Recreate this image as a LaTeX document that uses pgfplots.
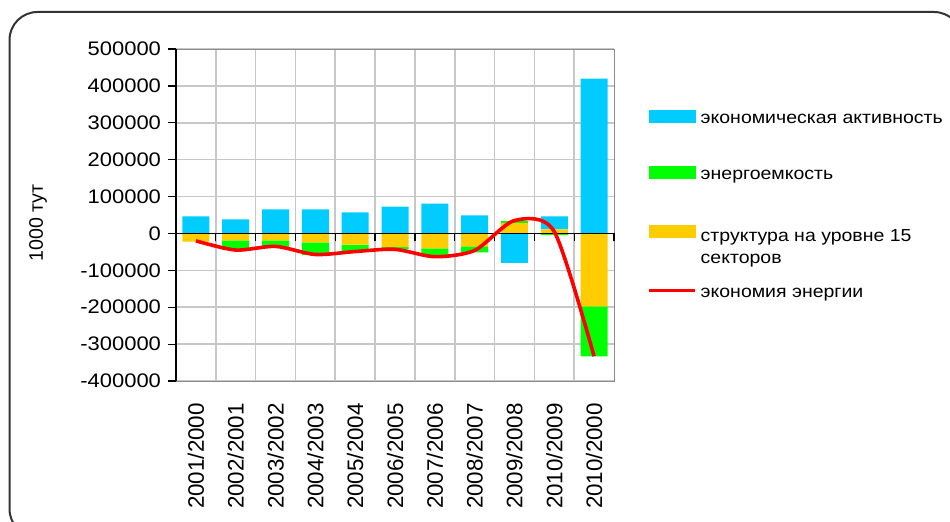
\documentclass[border=0pt]{standalone}
\usepackage{fontspec}
\setmainfont{Liberation Sans}[FakeStretch=1.12]
\newfontfamily\plainfont{Liberation Sans}
\usepackage{pgfplots}
\pgfplotsset{compat=1.18}

\definecolor{cblue}{HTML}{00CCFF}
\definecolor{cgreen}{HTML}{00FF00}
\definecolor{corange}{HTML}{FFCC00}
\definecolor{cred}{HTML}{FF0000}

\pgfplotsset{
  base/.style={
    at={(88pt,70pt)}, anchor=south west,
    width=219pt, height=166pt, scale only axis,
    xmin=-0.5, xmax=10.5, ymin=-400000, ymax=500000,
    scaled ticks=false,
  },
  bars/.style={draw=none, fill=#1},
}

\begin{document}
\begin{tikzpicture}
\useasboundingbox (0,0) rectangle (475pt,260.5pt);
\draw[line width=1pt, black!80, rounded corners=14pt] (4.75pt,-8pt) rectangle (481pt,254.5pt);

% background: frame, grid, category labels, negative parts of the bars
\begin{axis}[base,
  ybar stacked, bar width=13.5pt,
  axis line style={black!45},
  xtick={0,...,10},
  xticklabels={2001/2000,2002/2001,2003/2002,2004/2003,2005/2004,2006/2005,2007/2006,2008/2007,2009/2008,2010/2009,2010/2000},
  x tick label style={font=\plainfont\fontsize{11.2}{12}\selectfont, rotate=90, anchor=east, xshift=-7.5pt},
  minor xtick={0.5,1.5,...,9.5},
  xminorgrids=true,
  ytick={-400000,-300000,...,500000},
  yticklabels={},
  ymajorgrids=true,
  grid style={black!22, line width=0.8pt},
  major tick length=0pt, minor tick length=0pt,
]
\addplot[bars=corange] coordinates {(0,-22000)(1,-19000)(2,-19000)(3,-24500)(4,-30000)(5,-37000)(6,-40500)(7,-35000)(8,0)(9,0)(10,-198000)};
\addplot[bars=cgreen] coordinates {(0,0)(1,-26000)(2,-18000)(3,-34000)(4,-20000)(5,-6000)(6,-21000)(7,-16000)(8,0)(9,-4500)(10,-135000)};
\addplot[bars=cblue] coordinates {(0,0)(1,0)(2,0)(3,0)(4,0)(5,0)(6,0)(7,0)(8,-79000)(9,0)(10,0)};
\end{axis}

% positive parts of the bars
\begin{axis}[base, hide axis, ybar stacked, bar width=13.5pt]
\addplot[bars=corange] coordinates {(0,0)(1,0)(2,0)(3,0)(4,0)(5,0)(6,0)(7,0)(8,28000)(9,11000)(10,0)};
\addplot[bars=cgreen] coordinates {(0,0)(1,0)(2,0)(3,0)(4,0)(5,0)(6,0)(7,0)(8,7000)(9,0)(10,0)};
\addplot[bars=cblue] coordinates {(0,46000)(1,38000)(2,65000)(3,65000)(4,57000)(5,73000)(6,81000)(7,49000)(8,0)(9,35000)(10,420000)};
\end{axis}

% axis lines, ticks, line and legend
\begin{axis}[base,
  axis x line=middle, axis y line=left,
  axis line style={-, black, line width=0.6pt},
  xtick={-0.5,0.5,...,10.5}, xticklabels={},
  ytick={-400000,-300000,...,500000},
  yticklabel style={font=\fontsize{9.8}{11}\selectfont, /pgf/number format/.cd, fixed, 1000 sep={}, assume math mode=true},
  tick align=outside, major tick length=4pt,
  tick style={black, line width=0.6pt},
  hide obscured x ticks=false, hide obscured y ticks=false,
  ylabel={1000 тут},
  every axis y label/.style={at={(axis description cs:-0.315,0.476)}, font=\plainfont\fontsize{9.8}{11}\selectfont, rotate=90, anchor=center},
  legend style={at={(1.0747,0.819)}, anchor=north west, draw=none, fill=none, inner sep=0pt,
    font=\fontsize{8.7}{11}\selectfont, row sep=17.9pt, column sep=0pt},
  legend cell align=left,
]
\addplot[cred, line width=1.8pt, smooth, tension=0.45, forget plot] coordinates {(0,-20000)(1,-45000)(2,-35000)(3,-57000)(4,-49000)(5,-43000)(6,-63000)(7,-46000)(8,35000)(9,5000)(10,-333000)};
\addlegendimage{legend image code/.code={\fill[cblue] (0pt,-1pt) rectangle (23pt,5pt);}}
\addlegendentry{экономическая активность}
\addlegendimage{legend image code/.code={\fill[cgreen] (0pt,-1pt) rectangle (23pt,5pt);}}
\addlegendentry{энергоемкость}
\addlegendimage{legend image code/.code={\fill[corange] (0pt,-1pt) rectangle (23pt,5pt);}}
\addlegendentry{\strut\smash{\begin{tabular}[t]{@{}l@{}}структура на уровне 15\\секторов\end{tabular}}}
\addlegendimage{legend image code/.code={\draw[cred, line width=1.8pt] (0pt,2pt) -- (23pt,2pt);}}
\addlegendentry{экономия энергии}
\end{axis}
\end{tikzpicture}
\end{document}
